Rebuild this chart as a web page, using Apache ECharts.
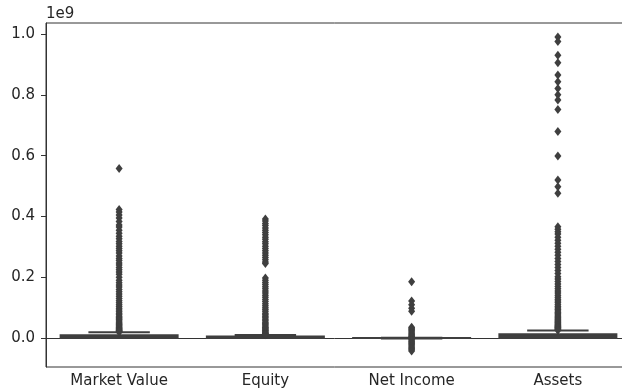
<!DOCTYPE html>
<html>
<head>
<meta charset="utf-8">
<script src="https://cdn.jsdelivr.net/npm/echarts@6/dist/echarts.min.js"></script>
<style>html,body{margin:0;padding:0;background:#fff}#c{width:622px;height:392px}</style>
</head>
<body>
<div id="c"></div>
<script>
// values in units of 1e9
var categories = ['Market Value', 'Equity', 'Net Income', 'Assets'];
var yTicks = [0.0, 0.2, 0.4, 0.6, 0.8, 1.0];
// [lowerWhisker, Q1, median, Q3, upperWhisker]
var mvStats = [0.0, 0.0005, 0.003, 0.009, 0.019];
var eqStats = [0.0, 0.0005, 0.002, 0.005, 0.010];
var niStats = [-0.001, 0.0, 0.0002, 0.0005, 0.001];
var asStats = [0.0, 0.0005, 0.004, 0.013, 0.025];

var mvOutliers = [0.558, 0.423, 0.415, 0.405, 0.395, 0.383, 0.372, 0.365, 0.355, 0.345, 0.335, 0.327, 0.318, 0.31, 0.302, 0.295, 0.287, 0.28, 0.27, 0.262, 0.255, 0.247, 0.24, 0.232, 0.225, 0.217, 0.21, 0.2, 0.19, 0.182, 0.175, 0.168, 0.16, 0.152, 0.145, 0.138, 0.13, 0.123, 0.116, 0.11, 0.104, 0.098, 0.092, 0.087, 0.082, 0.077, 0.072, 0.068, 0.064, 0.06, 0.056, 0.052, 0.048, 0.045, 0.042, 0.039, 0.036, 0.033, 0.031, 0.029, 0.027, 0.025, 0.023, 0.021, 0.02];
var eqOutliers = [0.392, 0.385, 0.377, 0.37, 0.362, 0.355, 0.347, 0.34, 0.332, 0.325, 0.317, 0.31, 0.302, 0.295, 0.287, 0.28, 0.272, 0.265, 0.258, 0.25, 0.245, 0.198, 0.19, 0.183, 0.176, 0.169, 0.162, 0.155, 0.148, 0.141, 0.134, 0.127, 0.12, 0.113, 0.106, 0.1, 0.094, 0.088, 0.082, 0.077, 0.072, 0.067, 0.062, 0.057, 0.052, 0.048, 0.044, 0.04, 0.036, 0.033, 0.03, 0.027, 0.024, 0.021, 0.018, 0.016, 0.014, 0.012, 0.011];
var niOutliers = [0.185, 0.122, 0.11, 0.098, 0.088, 0.036, 0.032, 0.028, 0.024, 0.02, 0.016, 0.012, 0.008, 0.005, 0.003, -0.003, -0.006, -0.01, -0.014, -0.018, -0.022, -0.026, -0.03, -0.034, -0.038, -0.042];
var asOutliers = [0.99, 0.975, 0.93, 0.905, 0.865, 0.843, 0.821, 0.8, 0.783, 0.752, 0.679, 0.599, 0.52, 0.498, 0.476, 0.366, 0.358, 0.35, 0.342, 0.332, 0.322, 0.312, 0.302, 0.292, 0.282, 0.272, 0.262, 0.252, 0.242, 0.232, 0.222, 0.212, 0.202, 0.194, 0.186, 0.178, 0.17, 0.162, 0.155, 0.148, 0.141, 0.134, 0.128, 0.122, 0.116, 0.11, 0.104, 0.099, 0.094, 0.089, 0.084, 0.08, 0.076, 0.072, 0.068, 0.064, 0.06, 0.057, 0.054, 0.051, 0.048, 0.045, 0.042, 0.04, 0.038, 0.036, 0.034, 0.032, 0.03, 0.028, 0.026];

var allStats = [mvStats, eqStats, niStats, asStats];
var allOutliers = [mvOutliers, eqOutliers, niOutliers, asOutliers];

var boxData = allStats.map(function (s, i) { return [i].concat(s); });
var outlierData = [];
allOutliers.forEach(function (arr, i) { arr.forEach(function (v) { outlierData.push([i, v]); }); });

var GRAY = '#3f3f3f';
var chart = echarts.init(document.getElementById('c'), null, {renderer: 'canvas'});
chart.setOption({
  animation: false,
  textStyle: {fontFamily: 'DejaVu Sans'},
  grid: {left: 46, right: -9, top: 23, bottom: 25, outerBoundsMode: 'none', containLabel: false,
    show: true, borderColor: '#333', borderWidth: 1, backgroundColor: 'transparent'},
  graphic: [{type: 'text', left: 46, top: 7, style: {text: '1e9', font: '15px DejaVu Sans', fill: '#262626'}}],
  xAxis: {
    type: 'category', data: categories, boundaryGap: true,
    axisLine: {lineStyle: {color: '#333', width: 1}},
    axisTick: {alignWithLabel: true, length: 4, lineStyle: {color: '#333'}},
    axisLabel: {color: '#262626', fontSize: 15, margin: 7, fontFamily: 'DejaVu Sans'},
    splitLine: {show: false}
  },
  yAxis: {
    type: 'value', min: -0.095, max: 1.036,
    axisLine: {show: true, lineStyle: {color: '#333', width: 1}},
    axisTick: {show: true, length: 5, customValues: yTicks, lineStyle: {color: '#333'}},
    axisLabel: {color: '#262626', fontSize: 15, margin: 11, customValues: yTicks, fontFamily: 'DejaVu Sans',
      formatter: function (v) { return v.toFixed(1); }},
    splitLine: {show: false}
  },
  series: [
    {
      type: 'custom',
      data: boxData,
      encode: {x: 0, y: [1, 2, 3, 4, 5]},
      z: 2,
      renderItem: function (params, api) {
        var idx = api.value(0);
        var pMin = api.coord([idx, api.value(1)]);
        var pQ1 = api.coord([idx, api.value(2)]);
        var pMed = api.coord([idx, api.value(3)]);
        var pQ3 = api.coord([idx, api.value(4)]);
        var pMax = api.coord([idx, api.value(5)]);
        var band = api.size([1, 0])[0];
        var cx = pMed[0];
        var half = band * 0.4, cap = band * 0.21;
        var ls = {stroke: GRAY, lineWidth: 2};
        return {
          type: 'group',
          children: [
            {type: 'line', shape: {x1: cx, y1: pQ3[1], x2: cx, y2: pMax[1]}, style: ls},
            {type: 'line', shape: {x1: cx, y1: pQ1[1], x2: cx, y2: pMin[1]}, style: ls},
            {type: 'line', shape: {x1: cx - cap, y1: pMax[1], x2: cx + cap, y2: pMax[1]}, style: ls},
            {type: 'line', shape: {x1: cx - cap, y1: pMin[1], x2: cx + cap, y2: pMin[1]}, style: ls},
            {type: 'rect', shape: {x: cx - half, y: pQ3[1], width: 2 * half, height: pQ1[1] - pQ3[1]},
              style: {fill: GRAY, stroke: GRAY, lineWidth: 2}},
            {type: 'line', shape: {x1: cx - half, y1: pMed[1], x2: cx + half, y2: pMed[1]}, style: ls}
          ]
        };
      }
    },
    {
      type: 'scatter',
      data: outlierData,
      symbol: 'diamond',
      symbolSize: [7, 9],
      z: 3,
      itemStyle: {color: GRAY, opacity: 1}
    }
  ]
});
</script>
</body>
</html>
